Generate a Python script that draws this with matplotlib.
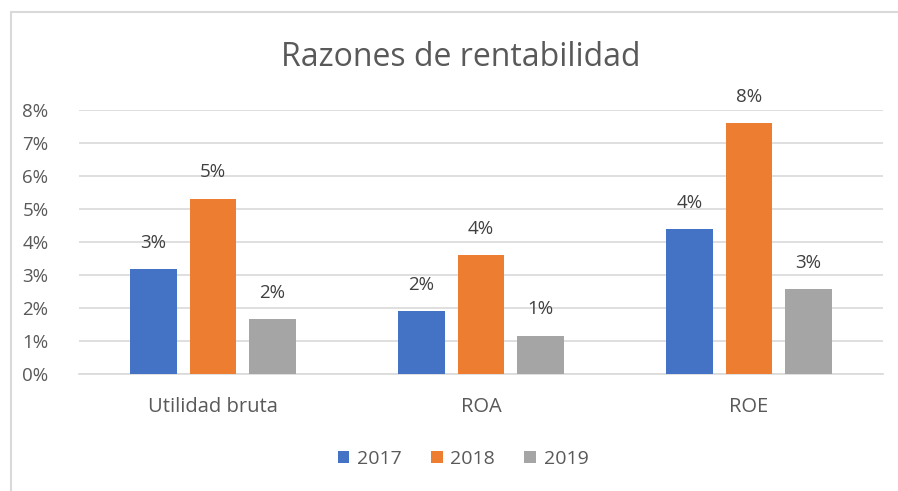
import numpy as np
import matplotlib.pyplot as plt
from matplotlib.patches import Rectangle

# datos de las razones (en fraccion)
categorias = ['Utilidad bruta', 'ROA', 'ROE']
anios = ['2017', '2018', '2019']
valores_2017 = [0.0318, 0.0191, 0.0439]
valores_2018 = [0.0531, 0.0361, 0.0760]
valores_2019 = [0.0166, 0.0117, 0.0257]
colores = ['#4472C4', '#ED7D31', '#A5A5A5']
ticks_y = [0, 0.01, 0.02, 0.03, 0.04, 0.05, 0.06, 0.07, 0.08]

plt.rcParams['font.family'] = ['Open Sans', 'DejaVu Sans']
gris_texto = '#595959'

fig = plt.figure(figsize=(8.98, 4.91), dpi=100)
ax = fig.add_axes([79 / 898, 1 - 374.3 / 491, 804 / 898, 264.3 / 491])

# marco del area del grafico (se sale por la derecha y abajo)
fig.patches.append(Rectangle((11 / 898, -0.1), 1.2, 1 - 12 / 491 + 0.1,
                             transform=fig.transFigure, fill=False,
                             edgecolor='#D9D9D9', linewidth=1.5))

x = np.arange(len(categorias))
ancho = 0.172
paso = 0.222
series = [valores_2017, valores_2018, valores_2019]

for i, (serie, anio) in enumerate(zip(series, anios)):
    pos = x + (i - 1) * paso
    barras = ax.bar(pos, serie, width=ancho, color=colores[i], label=anio, zorder=3)
    for b, v in zip(barras, serie):
        ax.annotate(f'{v * 100:.0f}%', (b.get_x() + b.get_width() / 2, v),
                    xytext=(0, 19), textcoords='offset points',
                    ha='center', va='center', fontsize=13.5, color='#404040')

ax.set_xlim(-0.5, 2.5)
ax.set_ylim(0, 0.08)
ax.set_yticks(ticks_y)
ax.set_yticklabels([f'{t * 100:.0f}%' for t in ticks_y])
ax.set_xticks(x)
ax.set_xticklabels(categorias)
ax.tick_params(axis='both', length=0, labelsize=13.5, labelcolor=gris_texto)
ax.tick_params(axis='x', pad=16, labelsize=14.5)
ax.tick_params(axis='y', pad=22)
ax.grid(axis='y', color='#D9D9D9', linewidth=1.2, zorder=0)
ax.set_axisbelow(True)
for s in ['top', 'right', 'left']:
    ax.spines[s].set_visible(False)
ax.spines['bottom'].set_color('#D9D9D9')
ax.spines['bottom'].set_linewidth(1.2)

fig.text(461 / 898, 1 - 57 / 491, 'Razones de rentabilidad', ha='center', va='center',
         fontsize=23, color=gris_texto)

fig.legend(loc='center', bbox_to_anchor=(463 / 898, 1 - 459 / 491), ncol=3, frameon=False,
           fontsize=14, labelcolor=gris_texto, handlelength=0.6, handleheight=0.6,
           handletextpad=0.4, columnspacing=1.5)

fig.savefig('out.png', dpi=100)
